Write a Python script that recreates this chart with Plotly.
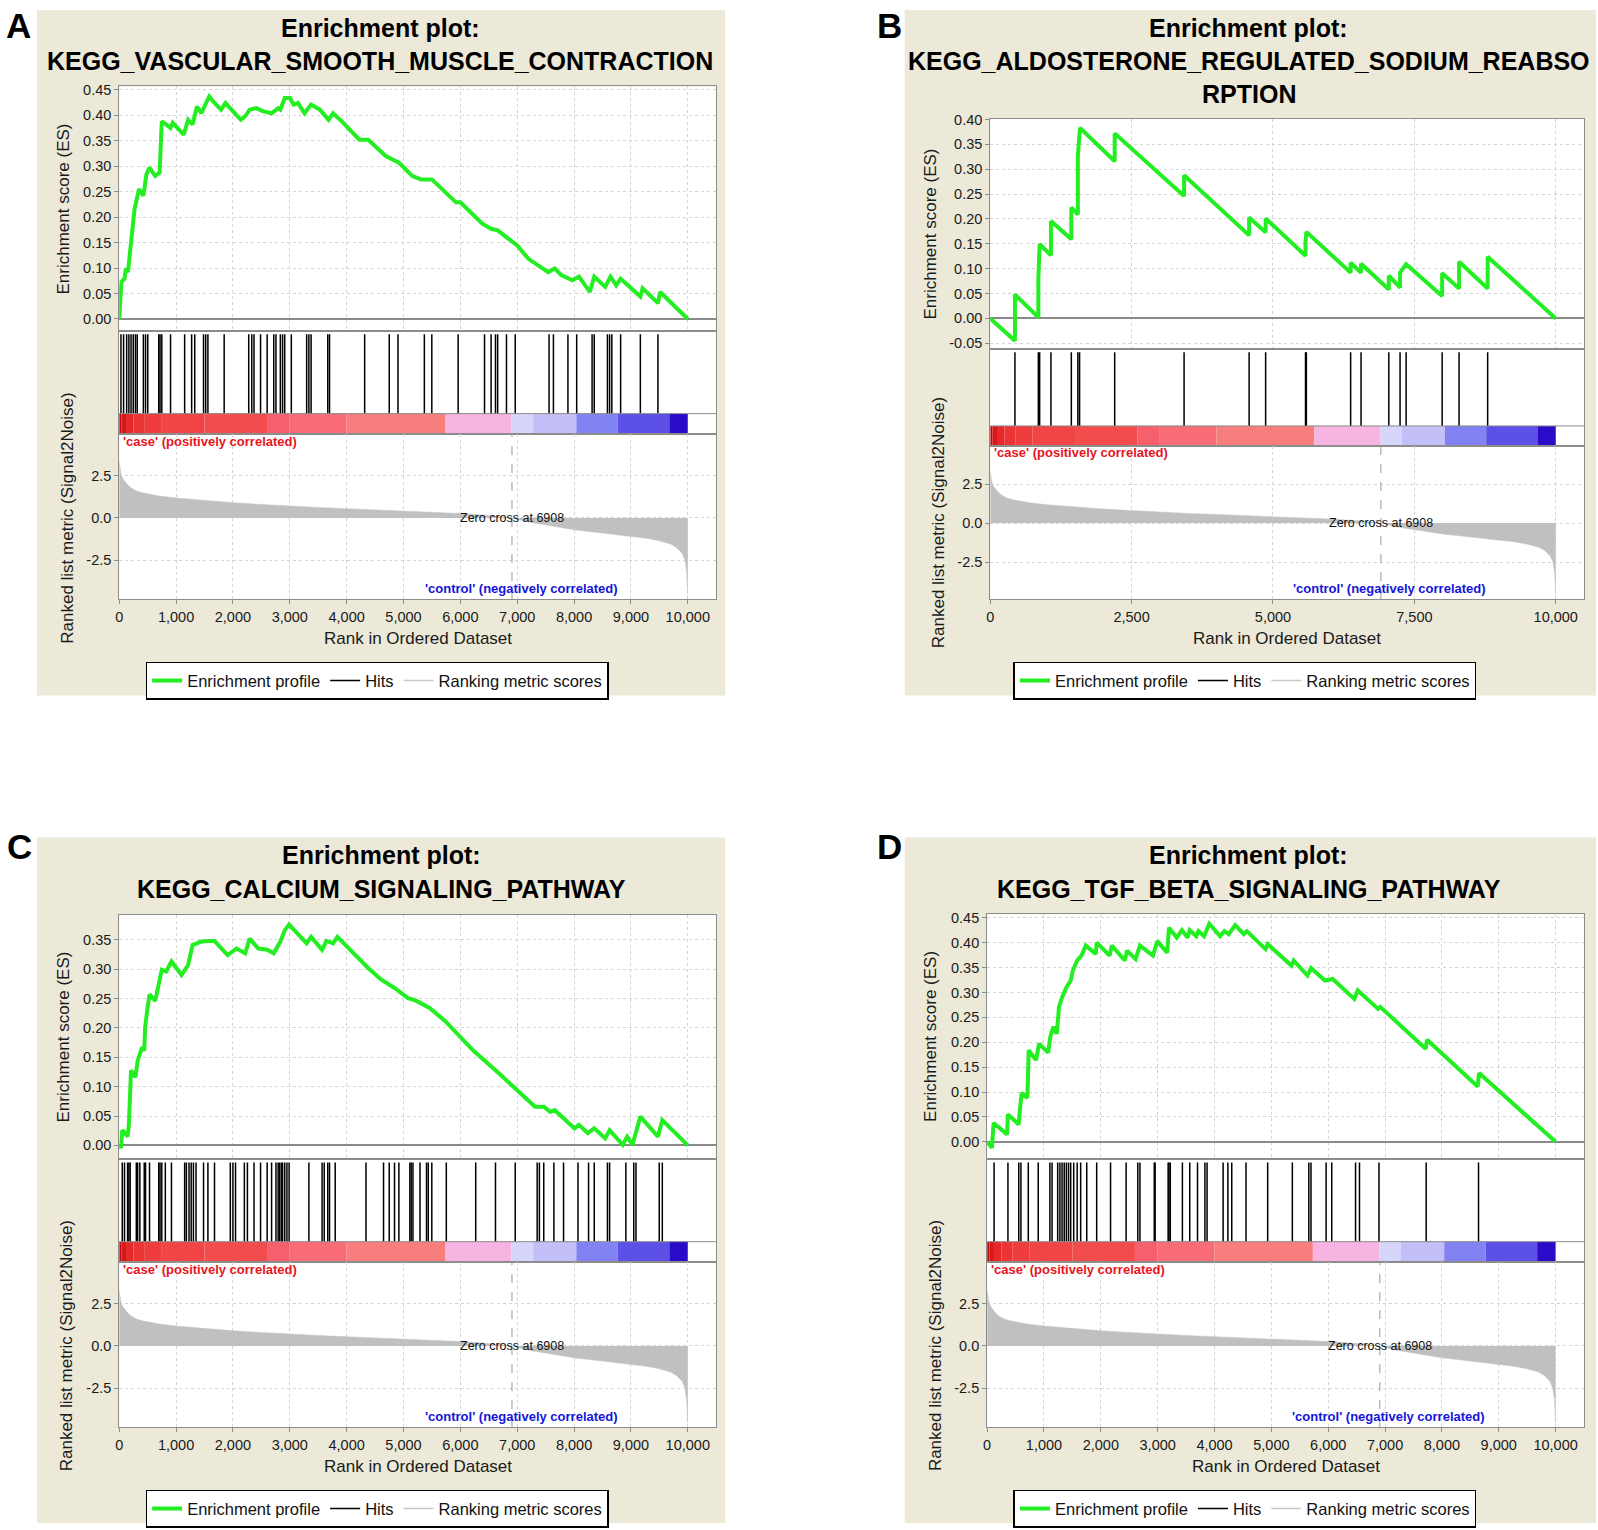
import plotly.graph_objects as go

W, H = 1598, 1530
FONT = "Liberation Sans, Arial, Helvetica, sans-serif"

# ---------------- data ----------------
rank_ticks_fine = [0, 1000, 2000, 3000, 4000, 5000, 6000, 7000, 8000, 9000, 10000]
rank_labels_fine = ["0", "1,000", "2,000", "3,000", "4,000", "5,000", "6,000",
                    "7,000", "8,000", "9,000", "10,000"]
rank_ticks_coarse = [0, 2500, 5000, 7500, 10000]
rank_labels_coarse = ["0", "2,500", "5,000", "7,500", "10,000"]

metric_ticks = [-2.5, 0.0, 2.5]
metric_tick_labels = ["-2.5", "0.0", "2.5"]

es_ticks_a = [0.00, 0.05, 0.10, 0.15, 0.20, 0.25, 0.30, 0.35, 0.40, 0.45]
es_ticks_b = [-0.05, 0.00, 0.05, 0.10, 0.15, 0.20, 0.25, 0.30, 0.35, 0.40]
es_ticks_c = [0.00, 0.05, 0.10, 0.15, 0.20, 0.25, 0.30, 0.35]
es_ticks_d = [0.00, 0.05, 0.10, 0.15, 0.20, 0.25, 0.30, 0.35, 0.40, 0.45]

# ranked list metric (same ordered dataset for all four plots)
metric_rank = [0, 10, 30, 60, 100, 150, 200, 300, 400, 500, 700, 1000, 1500, 2000,
               2500, 3000, 3500, 4000, 4500, 5000, 5500, 6000, 6500, 6908, 7200,
               7500, 8000, 8500, 9000, 9300, 9500, 9700, 9800, 9900, 9950, 9980, 10000]
metric_value = [3.3, 2.9, 2.6, 2.35, 2.15, 1.95, 1.8, 1.6, 1.5, 1.42, 1.3, 1.18, 1.02, 0.9,
                0.8, 0.7, 0.62, 0.55, 0.48, 0.42, 0.35, 0.26, 0.15, 0.0, -0.25,
                -0.43, -0.7, -0.9, -1.08, -1.22, -1.36, -1.55, -1.75, -2.1, -2.5, -3.2, -4.6]
zero_cross = 6908

# heat-map bar of the ranked list
cb_edges = [0, 40, 120, 250, 450, 750, 1500, 2600, 3000, 4000, 5730, 6900, 7280,
            8040, 8770, 9675, 10000]
cb_colors = ["#B80C0C", "#D81818", "#E62828", "#EC3434", "#EF3C3C", "#F14444", "#F34C4C",
             "#F6606C", "#F86C78", "#F87E7E", "#F8B4E0", "#D6D6FA", "#C2C0F6",
             "#8282F2", "#5C50E6", "#2A0CC8"]

# Panel A
title_a = ["Enrichment plot:", "KEGG_VASCULAR_SMOOTH_MUSCLE_CONTRACTION"]
a_es_rank = [0, 39, 93, 116, 154, 208, 270, 309, 347, 425, 479, 533, 633, 710, 749, 826,
             903, 941, 1135, 1212, 1290, 1367, 1444, 1583, 1676, 1792, 1869, 2139, 2216,
             2293, 2409, 2525, 2680, 2795, 2834, 2911, 3004, 3066, 3143, 3259, 3375, 3529,
             3683, 3761, 3915, 4224, 4379, 4688, 4919, 5151, 5305, 5498, 5923, 6000, 6386,
             6541, 6656, 7004, 7197, 7544, 7660, 7776, 7969, 8085, 8278, 8355, 8548, 8641,
             8741, 8819, 9166, 9205, 9475, 9514, 10000]
a_es_value = [0.000, 0.073, 0.079, 0.099, 0.092, 0.157, 0.216, 0.235, 0.255, 0.242, 0.284,
              0.297, 0.281, 0.287, 0.388, 0.382, 0.375, 0.385, 0.362, 0.391, 0.382, 0.417,
              0.404, 0.437, 0.424, 0.411, 0.424, 0.391, 0.398, 0.411, 0.414, 0.408, 0.404,
              0.414, 0.411, 0.434, 0.434, 0.421, 0.424, 0.404, 0.421, 0.411, 0.391, 0.404,
              0.388, 0.352, 0.352, 0.320, 0.307, 0.281, 0.274, 0.274, 0.229, 0.229, 0.187,
              0.177, 0.174, 0.144, 0.118, 0.092, 0.099, 0.086, 0.076, 0.083, 0.053, 0.083,
              0.063, 0.083, 0.066, 0.079, 0.044, 0.060, 0.031, 0.053, 0.000]
a_hits = [31, 77, 131, 170, 208, 247, 286, 317, 425, 463, 502, 695, 718, 749, 903, 1151,
          1274, 1328, 1483, 1521, 1560, 1846, 2278, 2332, 2371, 2486, 2602, 2718, 2757,
          2834, 2873, 2911, 3027, 3297, 3336, 3375, 3668, 3699, 4317, 4749, 4903, 5367,
          5498, 5961, 6425, 6541, 6618, 6656, 6811, 6965, 7560, 7637, 7892, 8046, 8317,
          8355, 8587, 8625, 8664, 8819, 9166, 9475]

# Panel B
title_b = ["Enrichment plot:", "KEGG_ALDOSTERONE_REGULATED_SODIUM_REABSO", "RPTION"]
b_es_rank = [0, 437, 437, 851, 851, 874, 1074, 1074, 1434, 1434, 1549, 1549, 1587, 2201,
             2201, 3428, 3428, 4578, 4578, 4870, 4870, 5575, 5575, 5590, 6373, 6373, 6557,
             6557, 7048, 7048, 7247, 7247, 7354, 7991, 7991, 8290, 8290, 8796, 8796, 10000]
b_es_value = [0.000, -0.045, 0.048, 0.002, 0.079, 0.149, 0.127, 0.196, 0.159, 0.223, 0.209,
              0.326, 0.383, 0.316, 0.372, 0.246, 0.288, 0.167, 0.203, 0.173, 0.201, 0.126,
              0.153, 0.174, 0.092, 0.112, 0.092, 0.110, 0.058, 0.086, 0.062, 0.092, 0.109,
              0.045, 0.091, 0.060, 0.114, 0.060, 0.124, 0.000]
b_hits = [437, 851, 874, 1074, 1434, 1549, 1580, 2201, 3428, 4578, 4870, 5575, 5590, 6373,
          6557, 7048, 7247, 7354, 7991, 8290, 8796]

# Panel C
title_c = ["Enrichment plot:", "KEGG_CALCIUM_SIGNALING_PATHWAY"]
c_es_rank = [0, 31, 54, 147, 170, 185, 208, 286, 324, 363, 402, 440, 456, 494, 533, 633,
             710, 749, 826, 919, 1097, 1212, 1290, 1444, 1598, 1676, 1907, 2062, 2216, 2293,
             2448, 2602, 2718, 2834, 2911, 2988, 3297, 3375, 3568, 3645, 3761, 3838, 4378,
             4610, 4842, 5073, 5228, 5459, 5730, 6232, 6618, 7004, 7313, 7467, 7583, 7660,
             8008, 8085, 8240, 8355, 8548, 8625, 8857, 8934, 9027, 9166, 9475, 9552, 10000]
c_es_value = [0.000, -0.004, 0.026, 0.015, 0.035, 0.083, 0.128, 0.116, 0.144, 0.156, 0.167,
              0.161, 0.201, 0.231, 0.257, 0.246, 0.285, 0.299, 0.296, 0.313, 0.290, 0.307,
              0.341, 0.347, 0.348, 0.348, 0.324, 0.335, 0.327, 0.352, 0.335, 0.333, 0.327,
              0.347, 0.366, 0.376, 0.344, 0.355, 0.333, 0.348, 0.344, 0.355, 0.302, 0.282,
              0.268, 0.251, 0.246, 0.234, 0.212, 0.161, 0.128, 0.094, 0.066, 0.066, 0.057,
              0.060, 0.029, 0.035, 0.021, 0.029, 0.012, 0.026, 0.001, 0.015, 0.001, 0.049,
              0.015, 0.043, 0.000]
c_hits = [54, 93, 147, 170, 193, 301, 324, 363, 440, 463, 533, 695, 718, 749, 811, 919,
          1151, 1181, 1228, 1266, 1305, 1351, 1483, 1560, 1676, 1954, 2000, 2046, 2201,
          2255, 2371, 2486, 2602, 2680, 2757, 2795, 2819, 2849, 2873, 2911, 2950, 2988,
          3336, 3568, 3606, 3668, 3699, 3799, 4340, 4649, 4749, 4842, 4919, 5112, 5135,
          5166, 5290, 5405, 5436, 5498, 5753, 6270, 6618, 6965, 7351, 7390, 7467, 7645,
          7815, 8069, 8255, 8355, 8587, 8625, 8911, 9050, 9089, 9498, 9552]

# Panel D
title_d = ["Enrichment plot:", "KEGG_TGF_BETA_SIGNALING_PATHWAY"]
d_es_rank = [0, 84, 114, 350, 366, 556, 579, 609, 708, 731, 861, 914, 1074, 1112, 1165,
             1226, 1264, 1318, 1394, 1470, 1508, 1584, 1660, 1736, 1912, 1927, 2155, 2193,
             2422, 2460, 2612, 2688, 2917, 2993, 3168, 3199, 3336, 3427, 3526, 3564, 3679,
             3717, 3816, 3907, 4097, 4174, 4250, 4364, 4516, 4570, 4897, 4935, 5354, 5392,
             5636, 5697, 5941, 6078, 6459, 6520, 6877, 6915, 7715, 7738, 8629, 8652, 10000]
d_es_value = [0.000, -0.012, 0.038, 0.015, 0.055, 0.035, 0.068, 0.098, 0.088, 0.184, 0.164,
              0.197, 0.179, 0.211, 0.231, 0.217, 0.271, 0.290, 0.310, 0.324, 0.344, 0.364,
              0.374, 0.394, 0.377, 0.400, 0.374, 0.394, 0.364, 0.384, 0.367, 0.394, 0.374,
              0.403, 0.380, 0.430, 0.410, 0.425, 0.410, 0.425, 0.413, 0.423, 0.413, 0.438,
              0.413, 0.423, 0.417, 0.435, 0.417, 0.423, 0.387, 0.397, 0.354, 0.364, 0.334,
              0.349, 0.324, 0.327, 0.287, 0.304, 0.267, 0.271, 0.187, 0.205, 0.111, 0.138,
              0.000]
d_hits = [122, 366, 556, 594, 724, 899, 1104, 1142, 1241, 1280, 1318, 1356, 1394, 1432,
          1470, 1523, 1584, 1645, 1752, 1927, 2171, 2445, 2650, 2688, 2940, 2955, 3184,
          3199, 3222, 3435, 3564, 3701, 3831, 3869, 4151, 4235, 4303, 4554, 4935, 5369,
          5659, 5697, 5963, 6062, 6481, 6550, 6893, 7723, 8644]

legend_names = ["Enrichment profile", "Hits", "Ranking metric scores"]
panel_letters = ["A", "B", "C", "D"]

# ---------------- layout geometry (pixels) ----------------
panels = [
    dict(letter=(15, 18.5), beige=(33, 3, 723, 693), x0=115.5, xr=714,
         es_dom=(80, 326), hits_dom=(326, 430), cb_top=409.3, met_dom=(430, 596),
         es_range=(-0.0234, 0.4565), met_range=(-4.82, 4.97), title_x=377,
         title_y=20.7, es_lab_x=60, met_lab_x=64, xt_y=636, legend=(142, 659),
         title=title_a, es=(a_es_rank, a_es_value), hits=a_hits, est=es_ticks_a,
         xt=(rank_ticks_fine, rank_labels_fine), ctrl_y=-4.2),
    dict(letter=(888, 18.5), beige=(903, 3, 1596, 693), x0=988.7, xr=1584,
         es_dom=(112.7, 344), hits_dom=(344, 441.7), cb_top=421.7, met_dom=(441.7, 596),
         es_range=(-0.061, 0.401), met_range=(-4.88, 4.96), title_x=1248,
         title_y=20.7, es_lab_x=929, met_lab_x=936.5, xt_y=636, legend=(1012, 659),
         title=title_b, es=(b_es_rank, b_es_value), hits=b_hits, est=es_ticks_b,
         xt=(rank_ticks_coarse, rank_labels_coarse), ctrl_y=-4.2),
    dict(letter=(16, 845), beige=(33, 836, 723, 1526), x0=115.5, xr=714,
         es_dom=(913.5, 1159.5), hits_dom=(1159.5, 1263.5), cb_top=1242.8,
         met_dom=(1263.5, 1429.5), es_range=(-0.023, 0.393), met_range=(-4.82, 4.97),
         title_x=378, title_y=853.9, es_lab_x=60, met_lab_x=63.5, xt_y=1469.5,
         legend=(142, 1492.5), title=title_c, es=(c_es_rank, c_es_value), hits=c_hits,
         est=es_ticks_c, xt=(rank_ticks_fine, rank_labels_fine), ctrl_y=-4.2),
    dict(letter=(888, 845), beige=(903, 836, 1596, 1526), x0=985.6, xr=1584,
         es_dom=(912.5, 1159.5), hits_dom=(1159.5, 1263.5), cb_top=1242.8,
         met_dom=(1263.5, 1429.5), es_range=(-0.0343, 0.4584), met_range=(-4.82, 4.97),
         title_x=1248, title_y=853.9, es_lab_x=929, met_lab_x=934.5, xt_y=1469.5,
         legend=(1012, 1492.5), title=title_d, es=(d_es_rank, d_es_value), hits=d_hits,
         est=es_ticks_d, xt=(rank_ticks_fine, rank_labels_fine), ctrl_y=-4.2),
]

GRID = "#d4d4d4"
FRAME = "#8c8c8c"
BEIGE = "#ECE9D8"
GREEN = "#22EE22"
X_MAX = 10500


def X(v):
    return v / W


def Y(v):
    return 1 - v / H


def axname(n, c):
    return f"{c}axis" if n == 1 else f"{c}axis{n}"


def axref(n, c):
    return c if n == 1 else f"{c}{n}"


layout = dict(width=W, height=H, margin=dict(l=0, r=0, t=0, b=0),
              paper_bgcolor="white", plot_bgcolor="white",
              font=dict(family=FONT, color="#111111"),
              hovermode=False, showlegend=True, shapes=[], annotations=[])

fig = go.Figure()

cb_centers = [(a + b) / 2 for a, b in zip(cb_edges[:-1], cb_edges[1:])]
cb_widths = [b - a for a, b in zip(cb_edges[:-1], cb_edges[1:])]

for i, p in enumerate(panels):
    ne, nh, nm = 3 * i + 1, 3 * i + 2, 3 * i + 3
    lg = "legend" if i == 0 else f"legend{i + 1}"
    xdom = [X(p["x0"]), X(p["xr"])]
    xt_vals, xt_text = p["xt"]
    hits_h = p["hits_dom"][1] - p["hits_dom"][0]
    cb_frac = (p["hits_dom"][1] - p["cb_top"]) / hits_h
    hit_top = 1 - 3.5 / hits_h

    # beige panel + white plotting area
    bx0, by0, bx1, by1 = p["beige"]
    layout["shapes"].append(dict(type="rect", xref="paper", yref="paper",
                                 x0=X(bx0), x1=X(bx1), y0=Y(by1), y1=Y(by0),
                                 fillcolor=BEIGE, line=dict(width=0), layer="below"))
    layout["shapes"].append(dict(type="rect", xref="paper", yref="paper",
                                 x0=X(p["x0"]), x1=X(p["xr"]), y0=Y(p["met_dom"][1]),
                                 y1=Y(p["es_dom"][0]), fillcolor="white",
                                 line=dict(width=0), layer="below"))
    # line on top of the colour bar
    layout["shapes"].append(dict(type="line", xref="paper", yref="paper",
                                 x0=X(p["x0"]), x1=X(p["xr"]), y0=Y(p["cb_top"]),
                                 y1=Y(p["cb_top"]), line=dict(color=FRAME, width=1),
                                 layer="above"))

    common_line = dict(showline=True, linecolor=FRAME, linewidth=1, mirror=True,
                       zeroline=False)
    tickfont = dict(size=14.5, color="#1a1a1a", family=FONT)

    # ES axes
    layout[axname(ne, "x")] = dict(domain=xdom, range=[0, X_MAX], anchor=axref(ne, "y"),
                                   tickvals=xt_vals, showticklabels=False, ticks="",
                                   showgrid=True, gridcolor=GRID, griddash="dot",
                                   **common_line)
    es_labels = [f"{v:.2f}" for v in p["est"]]
    es_y = dict(domain=[Y(p["es_dom"][1]), Y(p["es_dom"][0])],
                range=list(p["es_range"]), anchor=axref(ne, "x"),
                tickvals=p["est"], ticktext=es_labels, ticks="outside", ticklen=4,
                tickcolor=FRAME, tickfont=tickfont, showgrid=True, gridcolor=GRID,
                griddash="dot", showline=True, linecolor=FRAME, mirror=True)
    es_y.update(zeroline=True, zerolinecolor="#8a8a8a", zerolinewidth=2)
    layout[axname(ne, "y")] = es_y

    # hits + colour bar axes
    layout[axname(nh, "x")] = dict(domain=xdom, range=[0, X_MAX], anchor=axref(nh, "y"),
                                   showticklabels=False, ticks="", showgrid=False,
                                   **common_line)
    layout[axname(nh, "y")] = dict(domain=[Y(p["hits_dom"][1]), Y(p["hits_dom"][0])],
                                   range=[0, 1], anchor=axref(nh, "x"),
                                   showticklabels=False, ticks="", showgrid=False,
                                   **common_line)

    # ranked-list metric axes
    layout[axname(nm, "x")] = dict(domain=xdom, range=[0, X_MAX], anchor=axref(nm, "y"),
                                   tickvals=xt_vals, ticktext=xt_text, ticks="outside",
                                   ticklen=4, tickcolor=FRAME, tickfont=tickfont,
                                   showgrid=True, gridcolor=GRID, griddash="dot",
                                   **common_line)
    layout[axname(nm, "y")] = dict(domain=[Y(p["met_dom"][1]), Y(p["met_dom"][0])],
                                   range=list(p["met_range"]), anchor=axref(nm, "x"),
                                   tickvals=metric_ticks, ticktext=metric_tick_labels,
                                   ticks="outside", ticklen=4, tickcolor=FRAME,
                                   tickfont=tickfont, showgrid=True, gridcolor=GRID,
                                   griddash="dot", **common_line)

    # ---- traces ----
    es_rank, es_value = p["es"]
    fig.add_trace(go.Scatter(x=es_rank, y=es_value, mode="lines", name=legend_names[0],
                             line=dict(color=GREEN, width=4), legend=lg,
                             xaxis=axref(ne, "x"), yaxis=axref(ne, "y")))
    hx, hy = [], []
    for h in p["hits"]:
        hx += [h, h, None]
        hy += [cb_frac, hit_top, None]
    fig.add_trace(go.Scatter(x=hx, y=hy, mode="lines", name=legend_names[1],
                             line=dict(color="black", width=1.5), legend=lg,
                             xaxis=axref(nh, "x"), yaxis=axref(nh, "y")))
    fig.add_trace(go.Scatter(x=[None], y=[None], mode="lines", name=legend_names[2],
                             line=dict(color="#c8c8c8", width=1.5), legend=lg,
                             xaxis=axref(nm, "x"), yaxis=axref(nm, "y")))
    fig.add_trace(go.Scatter(x=metric_rank, y=metric_value, mode="lines",
                             line=dict(color="#c0c0c0", width=0.5), fill="tozeroy",
                             fillcolor="#c0c0c0", showlegend=False,
                             xaxis=axref(nm, "x"), yaxis=axref(nm, "y")))
    fig.add_trace(go.Scatter(x=[zero_cross, zero_cross], y=list(p["met_range"]),
                             mode="lines", line=dict(color="#9a9a9a", width=1, dash="dash"),
                             showlegend=False, xaxis=axref(nm, "x"), yaxis=axref(nm, "y")))
    fig.add_trace(go.Bar(x=cb_centers, y=[cb_frac] * len(cb_centers), base=0,
                         width=cb_widths, marker=dict(color=cb_colors, line=dict(width=0)),
                         showlegend=False, xaxis=axref(nh, "x"), yaxis=axref(nh, "y")))

    # ---- legend ----
    layout[lg] = dict(x=X(p["legend"][0]), y=Y(p["legend"][1]), xanchor="left",
                      yanchor="top", orientation="h", bgcolor="white",
                      bordercolor="black", borderwidth=1.5, itemwidth=30,
                      traceorder="normal", font=dict(size=16.5, color="#111", family=FONT))

    # ---- text ----
    ann = layout["annotations"]
    for k, line in enumerate(p["title"]):
        ann.append(dict(text=f"<b>{line}</b>", xref="paper", yref="paper",
                        x=X(p["title_x"]), y=Y(p["title_y"] + 33.6 * k),
                        xanchor="center", yanchor="middle", showarrow=False,
                        font=dict(size=25, color="black", family=FONT)))
    ann.append(dict(text=f"<b>{panel_letters[i]}</b>", xref="paper", yref="paper",
                    x=X(p["letter"][0]), y=Y(p["letter"][1]), xanchor="center",
                    yanchor="middle", showarrow=False,
                    font=dict(size=35, color="black", family=FONT)))
    ann.append(dict(text="Enrichment score (ES)", xref="paper", yref="paper",
                    x=X(p["es_lab_x"]), y=Y((p["es_dom"][0] + p["es_dom"][1]) / 2),
                    textangle=-90, xanchor="center", yanchor="middle", showarrow=False,
                    font=dict(size=17, color="#1a1a1a", family=FONT)))
    ann.append(dict(text="Ranked list metric (Signal2Noise)", xref="paper",
                    yref=axref(nm, "y"), x=X(p["met_lab_x"]), y=0, textangle=-90,
                    xanchor="center", yanchor="middle", showarrow=False,
                    font=dict(size=17, color="#1a1a1a", family=FONT)))
    ann.append(dict(text="Rank in Ordered Dataset", xref="paper", yref="paper",
                    x=X((p["x0"] + p["xr"]) / 2), y=Y(p["xt_y"]), xanchor="center",
                    yanchor="middle", showarrow=False,
                    font=dict(size=17, color="#1a1a1a", family=FONT)))
    ann.append(dict(text="<b>'case' (positively correlated)</b>", xref=axref(nm, "x"),
                    yref=axref(nm, "y"), x=0, y=4.55, xanchor="left", yanchor="middle",
                    xshift=2, showarrow=False,
                    font=dict(size=13, color="#E8141E", family=FONT)))
    ann.append(dict(text="<b>'control' (negatively correlated)</b>", xref=axref(nm, "x"),
                    yref=axref(nm, "y"), x=8800, y=p["ctrl_y"], xanchor="right",
                    yanchor="middle", showarrow=False,
                    font=dict(size=13, color="#1414DC", family=FONT)))
    ann.append(dict(text=f"Zero cross at {zero_cross}", xref=axref(nm, "x"),
                    yref=axref(nm, "y"), x=zero_cross, y=0, xanchor="center",
                    yanchor="middle", showarrow=False,
                    font=dict(size=12.5, color="#111", family=FONT)))

fig.update_layout(**layout)
fig.write_html("out.html", config={"displayModeBar": False, "staticPlot": True},
               post_script="document.body.style.margin='0';"
                           "document.body.style.overflow='hidden';")
